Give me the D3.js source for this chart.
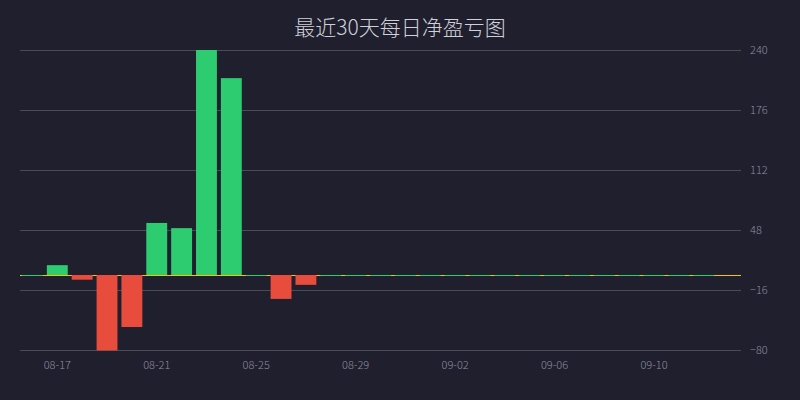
<html lang="zh">
  <head>
    <meta charset="UTF-8" />
    <title>最近30天每日净盈亏图</title>
    <script src="https://d3js.org/d3.v7.min.js"></script>
    <style>
      * {
        margin: 0;
        padding: 0;
      }
      body {
        background-color: #1f1f2e;
      }
    </style>
  </head>

  <body>
    <div id="svgContainer"></div>
    <script>
      // daily dates, 08-16 .. 09-13
      const dates = [
        "08-16", "08-17", "08-18", "08-19", "08-20", "08-21", "08-22", "08-23",
        "08-24", "08-25", "08-26", "08-27", "08-28", "08-29", "08-30", "08-31",
        "09-01", "09-02", "09-03", "09-04", "09-05", "09-06", "09-07", "09-08",
        "09-09", "09-10", "09-11", "09-12", "09-13",
      ];
      // net profit / loss per day (last day has no value)
      const profit = [
        0, 10.5, -5, -80.5, -55.5, 55.5, 50, 240, 210, 0, -25.5, -10.5, 0, 0,
        0, 0, 0, 0, 0, 0, 0, 0, 0, 0, 0, 0, 0, 0, null,
      ];
      const yTicks = [-80, -16, 48, 112, 176, 240];
      const xLabels = ["08-17", "08-21", "08-25", "08-29", "09-02", "09-06", "09-10"];

      const width = 800;
      const height = 400;
      const MARGIN = { left: 20, right: 60, top: 50, bottom: 50 };

      const svg = d3
        .select("#svgContainer")
        .append("svg")
        .attr("width", width)
        .attr("height", height)
        .style("background", "#1f1f2e");

      // title
      svg
        .append("text")
        .attr("x", 400)
        .attr("y", 35)
        .attr("text-anchor", "middle")
        .attr("fill", "#d0d0d8")
        .style("font-family", "'Noto Sans CJK SC', 'Noto Sans', sans-serif")
        .style("font-weight", 300)
        .style("font-size", "21px")
        .text("最近30天每日净盈亏图");

      const x = d3
        .scaleBand()
        .domain(dates)
        .range([MARGIN.left, width - MARGIN.right + 1])
        .paddingInner(0.16)
        .paddingOuter(0.08);

      const y = d3
        .scaleLinear()
        .domain([yTicks[0], yTicks[yTicks.length - 1]])
        .range([height - MARGIN.bottom, MARGIN.top]);

      // grid + right axis labels
      const yAxis = svg
        .append("g")
        .attr("transform", `translate(${width - MARGIN.right + 1},0)`)
        .call(
          d3
            .axisRight(y)
            .tickValues(yTicks)
            .tickSize(-(width - MARGIN.left - MARGIN.right + 1))
            .tickPadding(9)
        );
      yAxis.select(".domain").remove();
      yAxis
        .selectAll(".tick line")
        .attr("stroke", "#4a4a58")
        .attr("stroke-width", 1);
      yAxis
        .selectAll(".tick text")
        .attr("fill", "#8e8e9c")
        .style("font-family", "'Noto Sans CJK SC', 'Noto Sans', sans-serif")
        .style("font-weight", 300)
        .style("font-size", "11px");

      // x axis labels
      const xAxis = svg
        .append("g")
        .attr("transform", `translate(0,${height - MARGIN.bottom})`)
        .call(d3.axisBottom(x).tickValues(xLabels).tickSize(0).tickPadding(11));
      xAxis.select(".domain").remove();
      xAxis
        .selectAll(".tick text")
        .attr("fill", "#8e8e9c")
        .style("font-family", "'Noto Sans CJK SC', 'Noto Sans', sans-serif")
        .style("font-weight", 300)
        .style("font-size", "11px");

      // zero line
      svg
        .append("line")
        .attr("x1", MARGIN.left)
        .attr("x2", width - MARGIN.right + 1)
        .attr("y1", Math.round(y(0)) + 0.5)
        .attr("y2", Math.round(y(0)) + 0.5)
        .attr("stroke", "#f1c40f")
        .attr("stroke-width", 1);

      // bars
      svg
        .append("g")
        .selectAll("rect")
        .data(dates.map((d, i) => ({ date: d, v: profit[i] })).filter((d) => d.v !== null))
        .join("rect")
        .attr("x", (d) => x(d.date))
        .attr("width", x.bandwidth())
        .attr("y", (d) => (d.v === 0 ? Math.round(y(0)) : Math.min(y(0), y(d.v))))
        .attr("height", (d) => (d.v === 0 ? 1 : Math.abs(y(d.v) - y(0))))
        .attr("fill", (d) => (d.v >= 0 ? "#2ecc71" : "#e74c3c"));
    </script>
  </body>
</html>
